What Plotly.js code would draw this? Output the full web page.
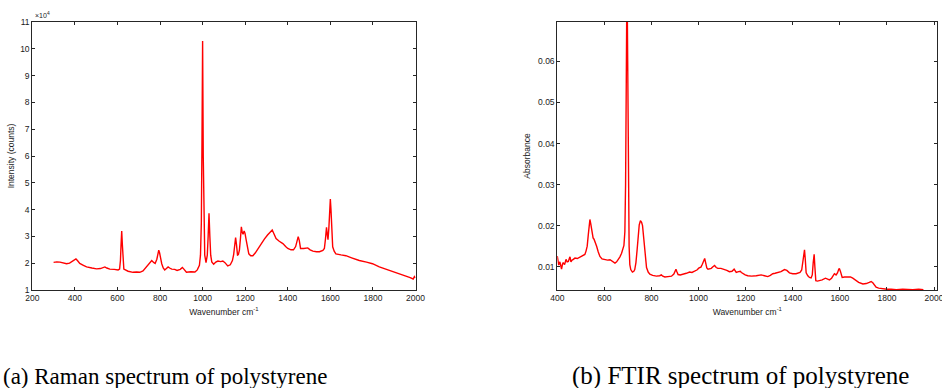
<!DOCTYPE html>
<html>
<head>
<meta charset="utf-8">
<script src="https://cdn.plot.ly/plotly-3.0.1.min.js"></script>
<style>
html,body{margin:0;padding:0;background:#fff;}
#chart{width:942px;height:388px;}
</style>
</head>
<body>
<div id="chart"></div>
<script>
// Raman spectrum of polystyrene (wavenumber cm^-1, intensity in units of 1e4 counts)
var ramanWn = [300,315,330,345,361,375,390,400,405,412,423,440,455,480,502,520,535,541,550,564,585,603,610,614,617,620,623,626,630,650,673,690,705,720,735,744,755,761,770,777,785,790,794,798,803,808,815,822,830,838,845,855,869,880,895,905,912,924,945,964,975,985,990,994,997,1000,1003,1006,1010,1016,1022,1026,1030,1034,1038,1043,1052,1062,1072,1085,1095,1105,1118,1130,1140,1146,1151,1155,1159,1164,1168,1173,1178,1182,1186,1190,1195,1199,1205,1211,1217,1226,1236,1247,1259,1275,1290,1305,1318,1327,1335,1345,1360,1377,1390,1400,1415,1427,1437,1443,1449,1454,1460,1475,1494,1505,1518,1535,1549,1565,1572,1577,1582,1586,1589,1593,1597,1600,1603,1607,1611,1618,1626,1650,1673,1700,1736,1770,1798,1830,1861,1890,1923,1955,1975,1989,1995,2000];
var ramanI1e4 = [2.03,2.05,2.04,2.02,1.98,2.00,2.07,2.12,2.16,2.10,1.99,1.92,1.86,1.82,1.79,1.80,1.84,1.86,1.82,1.78,1.77,1.75,1.78,2.1,2.7,3.2,2.7,2.0,1.78,1.70,1.66,1.67,1.66,1.71,1.84,1.93,2.05,2.10,2.03,1.99,2.15,2.38,2.49,2.38,2.15,1.98,1.82,1.75,1.80,1.86,1.82,1.78,1.77,1.73,1.77,1.84,1.78,1.66,1.68,1.67,1.75,1.92,2.3,3.5,6.5,10.29,6.0,3.2,2.3,2.02,2.3,3.0,3.86,3.0,2.3,2.05,1.96,2.04,2.08,2.06,2.08,2.02,1.90,1.94,2.10,2.33,2.75,2.96,2.70,2.30,2.32,2.50,2.95,3.36,3.15,3.08,3.20,3.12,2.85,2.55,2.35,2.28,2.28,2.38,2.53,2.72,2.90,3.05,3.18,3.24,3.10,2.92,2.82,2.73,2.62,2.55,2.50,2.50,2.62,2.85,2.99,2.85,2.55,2.55,2.57,2.50,2.45,2.43,2.43,2.48,2.55,2.90,3.34,3.05,2.88,3.3,4.0,4.39,4.0,3.1,2.61,2.45,2.35,2.31,2.28,2.20,2.10,2.04,1.98,1.86,1.78,1.70,1.60,1.52,1.46,1.41,1.50,1.45];
var ramanCounts = ramanI1e4.map(function(v){return v*1e4;});

// FTIR spectrum of polystyrene (wavenumber cm^-1, absorbance)
var ftirWn = [400,403,406,411,415,418,422,425,431,437,442,447,451,454,458,461,468,475,485,496,507,517,522,527,532,536,538.5,542,547,552,556,561,567,574,581,590,602,613,624,635,645,652,659,666,673,679,683,687,690,693,696,699,702,705,708,712,719,725,729,734,739,744,748,753,758,762,766,769,774,779,786,793,805,821,835,842,848,857,870,885,895,900,904,908,913,922,934,948,962,972,983,993,1002,1010,1016,1022,1026,1030,1035,1040,1047,1054,1061,1068,1075,1082,1095,1110,1120,1131,1142,1151,1156,1160,1170,1177,1182,1188,1198,1209,1225,1245,1266,1280,1294,1305,1315,1325,1336,1350,1365,1375,1386,1400,1414,1425,1431,1438,1443,1447,1450,1453,1457,1464,1471,1478,1483,1487,1491,1494,1498,1505,1513,1525,1539,1548,1556,1565,1577,1584,1590,1595,1598,1603,1610,1620,1634,1645,1655,1668,1680,1698,1712,1725,1733,1740,1747,1754,1765,1783,1800,1818,1840,1867,1890,1910,1935,1955];
var ftirAbs = [0.0126,0.0112,0.0104,0.0112,0.0100,0.0094,0.0106,0.0110,0.0105,0.0118,0.0112,0.0113,0.0120,0.0124,0.0112,0.0115,0.0118,0.0121,0.0120,0.0124,0.0126,0.0130,0.0138,0.0150,0.0180,0.0208,0.0215,0.0205,0.0185,0.0170,0.0167,0.0160,0.0150,0.0136,0.0125,0.0119,0.0117,0.0116,0.0117,0.0113,0.0109,0.0112,0.0117,0.0124,0.0133,0.0142,0.0152,0.0185,0.030,0.055,0.082,0.060,0.030,0.0150,0.0105,0.0093,0.0087,0.0089,0.0093,0.0110,0.0141,0.0180,0.0202,0.0212,0.0208,0.0200,0.0178,0.0150,0.0118,0.0098,0.0087,0.0082,0.0079,0.0077,0.0078,0.0080,0.0077,0.0075,0.0076,0.0077,0.0082,0.0090,0.0094,0.0088,0.0081,0.0080,0.0081,0.0084,0.0087,0.0086,0.0089,0.0092,0.0097,0.0099,0.0106,0.0116,0.0120,0.0110,0.0097,0.0094,0.0095,0.0096,0.0100,0.0103,0.0098,0.0096,0.0096,0.0094,0.0091,0.0088,0.0089,0.0094,0.0089,0.0086,0.0088,0.0089,0.0086,0.0083,0.0080,0.0078,0.0077,0.0078,0.0080,0.0078,0.0076,0.0079,0.0083,0.0084,0.0085,0.0088,0.0093,0.0091,0.0085,0.0083,0.0083,0.0084,0.0086,0.0092,0.0110,0.0135,0.0141,0.0120,0.0085,0.0078,0.0074,0.0073,0.0080,0.0110,0.0130,0.0100,0.0066,0.0065,0.0066,0.0068,0.0072,0.0070,0.0068,0.0072,0.0083,0.0080,0.0085,0.0093,0.0096,0.0088,0.0074,0.0075,0.0076,0.0075,0.0072,0.0067,0.0062,0.0058,0.0059,0.0062,0.0064,0.0061,0.0055,0.0050,0.0048,0.0046,0.0045,0.0045,0.0044,0.0045,0.0044,0.0044,0.0045,0.0044];

var ramanXTicks = [200,400,600,800,1000,1200,1400,1600,1800,2000];
var ramanYTickVals = [10000,20000,30000,40000,50000,60000,70000,80000,90000,100000,110000];
var ramanYTickText = ['1','2','3','4','5','6','7','8','9','10','11'];
var ftirXTicks = [400,600,800,1000,1200,1400,1600,1800,2000];
var ftirYTicks = [0.01,0.02,0.03,0.04,0.05,0.06];
var ftirYTickText = ['0.01','0.02','0.03','0.04','0.05','0.06'];

var axisColor = '#262626';
var tickFont = {family: 'Liberation Sans, Arial, Helvetica, sans-serif', size: 8.5, color: '#1a1a1a'};
var titleFont = {family: 'Liberation Sans, Arial, Helvetica, sans-serif', size: 8.5, color: '#1a1a1a'};
function baseAxis(extra){
  var a = {
    showgrid: false, zeroline: false, showline: true, linecolor: axisColor, linewidth: 1,
    mirror: 'ticks', ticks: 'inside', ticklen: 3, tickwidth: 1, tickcolor: axisColor,
    tickfont: tickFont, automargin: false, fixedrange: true, ticklabeloverflow: 'allow'
  };
  for (var k in extra) a[k] = extra[k];
  return a;
}

var traces = [
  {x: ramanWn, y: ramanCounts, type: 'scatter', mode: 'lines', xaxis: 'x', yaxis: 'y',
   line: {color: '#ff0000', width: 1.4}, hoverinfo: 'skip', showlegend: false},
  {x: ftirWn, y: ftirAbs, type: 'scatter', mode: 'lines', xaxis: 'x2', yaxis: 'y2',
   line: {color: '#ff0000', width: 1.4}, hoverinfo: 'skip', showlegend: false}
];

var yTop = 1 - 22/388, yBot = 1 - 290/388;
var layout = {
  width: 942, height: 388,
  margin: {l: 0, r: 0, t: 0, b: 0},
  paper_bgcolor: '#ffffff', plot_bgcolor: '#ffffff',
  showlegend: false,
  xaxis: baseAxis({domain: [32.3/942, 415.5/942], range: [200, 2000], tickvals: ramanXTicks,
    anchor: 'y', title: {text: 'Wavenumber cm<sup>-1</sup>', font: titleFont, standoff: 6}}),
  yaxis: baseAxis({domain: [yBot, yTop], range: [10000, 110000], tickvals: ramanYTickVals,
    ticktext: ramanYTickText, anchor: 'x', title: {text: 'Intensity (counts)', font: titleFont, standoff: 4}}),
  xaxis2: baseAxis({domain: [557.3/942, 937.3/942], range: [400, 2014], tickvals: ftirXTicks,
    anchor: 'y2', title: {text: 'Wavenumber cm<sup>-1</sup>', font: titleFont, standoff: 6}}),
  yaxis2: baseAxis({domain: [yBot, yTop], range: [0.00433, 0.0696], tickvals: ftirYTicks,
    ticktext: ftirYTickText, anchor: 'x2', title: {text: 'Absorbance', font: titleFont, standoff: 6}}),
  annotations: [
    {text: '×10<sup>4</sup>', xref: 'paper', yref: 'paper', x: 33/942, y: 1 - 15/388,
     xanchor: 'left', yanchor: 'middle', showarrow: false,
     font: {family: 'Liberation Sans, Arial, sans-serif', size: 7, color: '#1a1a1a'}},
    {text: '(a) Raman spectrum of polystyrene', xref: 'paper', yref: 'paper', x: 1/942, y: 1 - 376/388,
     xanchor: 'left', yanchor: 'middle', showarrow: false,
     font: {family: 'Liberation Serif, DejaVu Serif, serif', size: 23, color: '#000000'}},
    {text: '(b) FTIR spectrum of polystyrene', xref: 'paper', yref: 'paper', x: 740/942, y: 1 - 376/388,
     xanchor: 'center', yanchor: 'middle', showarrow: false,
     font: {family: 'Liberation Serif, DejaVu Serif, serif', size: 25, color: '#000000'}}
  ]
};

Plotly.newPlot('chart', traces, layout, {staticPlot: true, displayModeBar: false});
</script>
</body>
</html>
